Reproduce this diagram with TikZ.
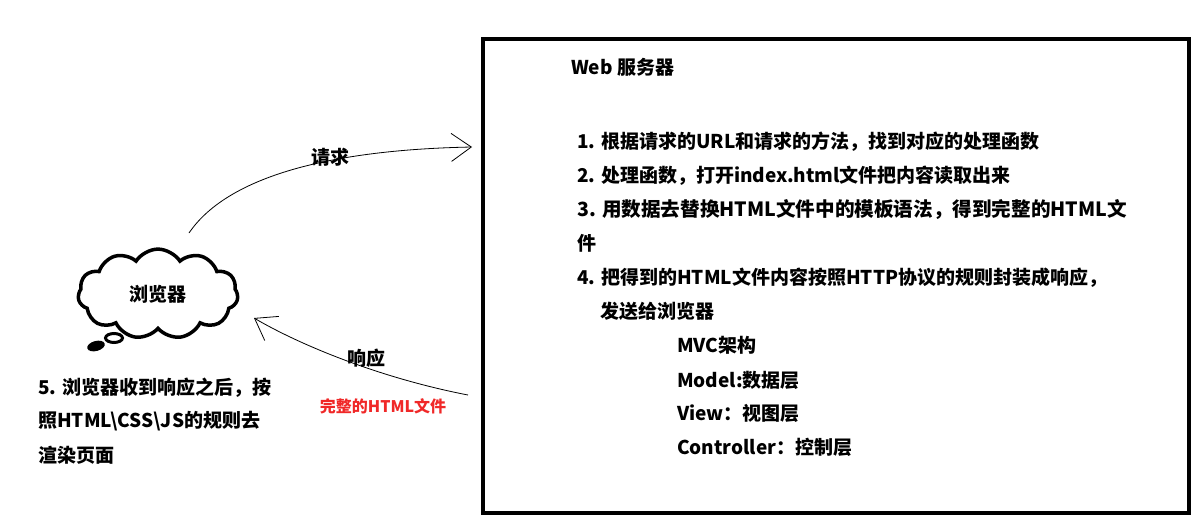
\documentclass[tikz,border=0pt]{standalone}
\usepackage{fontspec}
\setmainfont{Noto Sans CJK SC}
\usepackage{xcolor}
\usetikzlibrary{arrows.meta,positioning,shapes.symbols,shapes.geometric}
\definecolor{inkred}{HTML}{F02828}

\begin{document}
\begin{tikzpicture}[x=1pt,y=-1pt,font=\fontsize{19}{19}\selectfont\bfseries,
    txt/.style={anchor=west,inner sep=0pt},
    hand/.style={line width=0.8pt,-{Straight Barb[length=20pt,width=28pt,line width=0.8pt]}}]
  \useasboundingbox (0,0) rectangle (1198,522);
  % browser side
  \node[cloud,draw,line width=3.5pt,cloud puffs=11,cloud puff arc=115,
        minimum width=160pt,minimum height=86pt,inner sep=0pt] (browser) at (158,294) {浏览器};
  \node[ellipse,draw,line width=3pt,minimum width=17pt,minimum height=9pt,inner sep=0pt] (bubble) at (114,338) {};
  \node[ellipse,fill,rotate=15,minimum width=18pt,minimum height=10pt,inner sep=0pt] (blob) at (96,346) {};
  \node[txt] (render1) at (38,388) {5. 浏览器收到响应之后，按};
  \node[txt] (render2) at (38,421) {照HTML\textbackslash CSS\textbackslash JS的规则去};
  \node[txt] (render3) at (38,455) {渲染页面};
  % server side
  \draw[line width=4pt] (483,39) rectangle (1189,513);
  \node[txt] (server) at (571,67) {Web 服务器};
  \node[txt] (step1) at (577,142) {1. 根据请求的URL和请求的方法，找到对应的处理函数};
  \node[txt] (step2) at (577,176) {2. 处理函数，打开index.html文件把内容读取出来};
  \node[txt,font=\fontsize{19.6}{19}\selectfont\bfseries] (step3) at (577,210) {3. 用数据去替换HTML文件中的模板语法，得到完整的HTML文};
  \node[txt] (step3b) at (577,243) {件};
  \node[txt] (step4) at (577,278) {4. 把得到的HTML文件内容按照HTTP协议的规则封装成响应，};
  \node[txt] (step4b) at (600,311) {发送给浏览器};
  \node[txt] (mvc) at (677,345) {MVC架构};
  \node[txt] (model) at (677,380) {Model:数据层};
  \node[txt] (view) at (677,413) {View：视图层};
  \node[txt] (ctrl) at (677,447) {Controller：控制层};
  % request / response
  \coordinate (reqfrom) at (189,233);
  \coordinate (reqto) at (472,147);
  \coordinate (resfrom) at (468,395);
  \coordinate (resto) at (254,318);
  \draw[hand] (reqfrom) .. controls (225,180) and (320,150) .. (reqto);
  \draw[hand] (resfrom) .. controls (380,378) and (300,345) .. (resto);
  \node (req) at (330,157) {请求};
  \node (res) at (366,358) {响应};
  \node[text=inkred,font=\fontsize{16}{16}\selectfont\bfseries] (page) at (383,406) {完整的HTML文件};
\end{tikzpicture}
\end{document}
